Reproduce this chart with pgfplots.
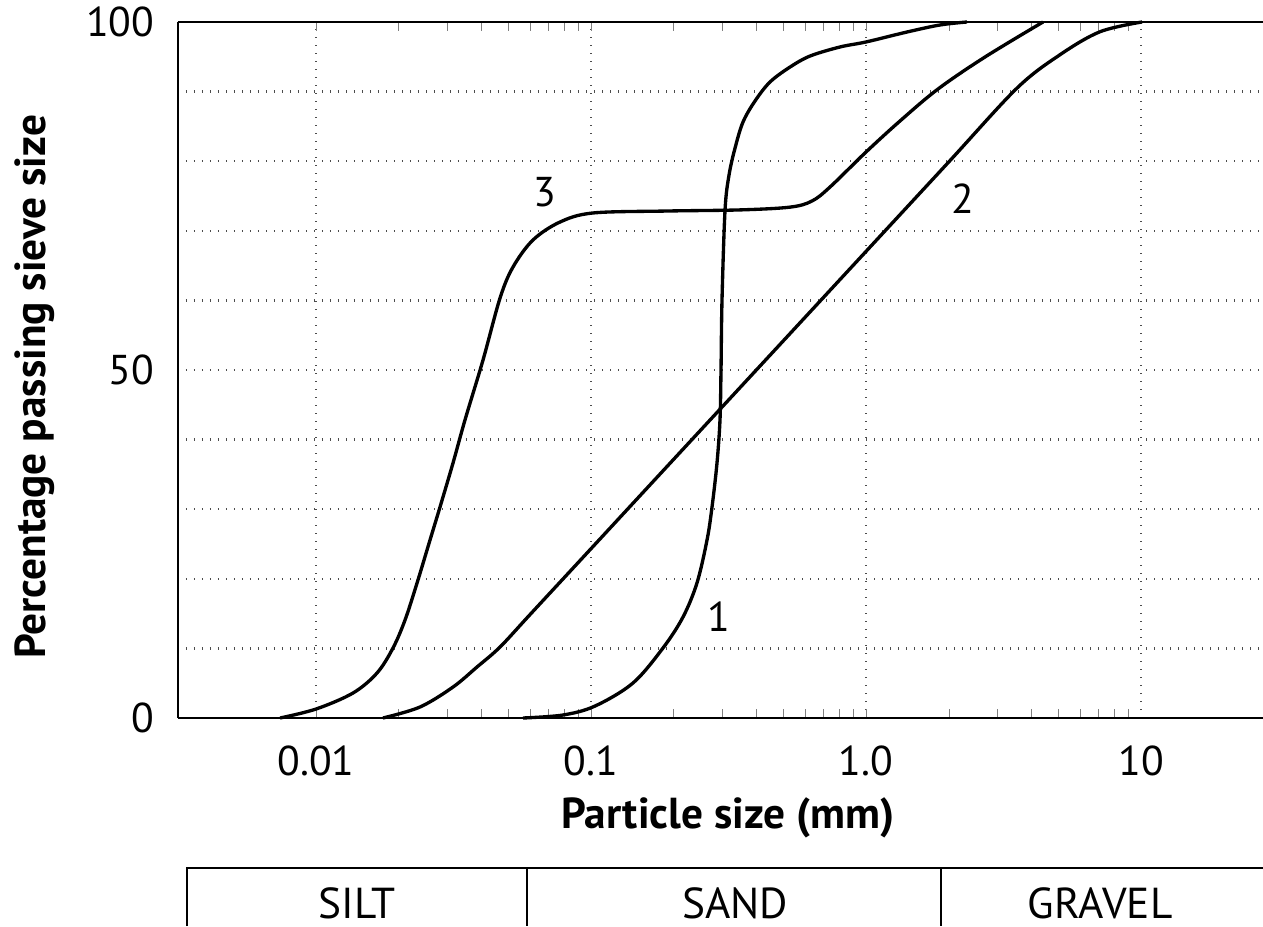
\documentclass[border=0pt]{standalone}
\usepackage{fontspec}
\setmainfont{PT Sans}
\usepackage{pgfplots}
\pgfplotsset{compat=1.18}

\begin{document}
\begin{tikzpicture}[font=\fontsize{13}{15}\selectfont]
\begin{axis}[
  scale only axis,
  width=325.5pt, height=208.8pt,
  xmode=log,
  xmin=0.003148, xmax=27.77,
  ymin=0, ymax=100,
  axis x line*=box, axis y line*=left,
  axis line style={line width=0.8pt},
  xtick={0.01,0.1,1,10},
  xticklabels={0.01,0.1,1.0,10},
  ytick={0,10,...,100},
  yticklabels={0,,,,,50,,,,,100},
  major tick length=0pt,
  grid=major,
  major grid style={dotted, line width=0.7pt, black!70},
  tick label style={font=\fontsize{12.5}{14}\selectfont,
    /pgf/number format/assume math mode=true},
  xticklabel style={anchor=center, yshift=-12.9pt},
  yticklabel style={anchor=east, inner sep=0pt, xshift=-6.9pt},
  xlabel={\textbf{Particle size (mm)}},
  ylabel={\textbf{Percentage passing sieve size}},
  xlabel style={at={(axis description cs:0.507,-0.1437)}, anchor=center},
  ylabel style={at={(axis description cs:-0.1318,0.4756)}, anchor=center},
  clip=false,
]
% curve 3
\addplot[black, line width=1pt, smooth, tension=0.55] coordinates {
  (0.0074,0) (0.0100,1.29) (0.01363,3.59) (0.01667,6.47) (0.01905,10.06)
  (0.02107,14.08) (0.0233,19.4) (0.02597,25.57) (0.02824,30.32) (0.03149,36.64)
  (0.03481,42.82) (0.04048,51.44) (0.04668,60.34) (0.05204,64.8) (0.06151,68.68)
  (0.07713,71.26) (0.1017,72.56) (0.1888,72.84) (0.3481,73.0) (0.5294,73.4)
  (0.6361,74.28) (0.7397,76.29) (1.0,81.32) (1.3292,85.78) (1.827,90.37)
  (2.708,94.97) (4.402,100)
};
% curve 1
\addplot[black, line width=1pt, smooth, tension=0.55] coordinates {
  (0.05658,0) (0.0791,0.43) (0.1034,1.72) (0.1421,5.03) (0.1827,10.06)
  (0.2160,14.51) (0.2428,19.4) (0.2641,25.57) (0.2754,30.32) (0.2871,36.64)
  (0.2944,42.82) (0.2969,50.0) (0.2994,60.06) (0.3071,72.99) (0.3176,78.02)
  (0.3340,81.9) (0.3570,85.63) (0.3948,88.65) (0.4475,91.38) (0.5294,93.53)
  (0.6258,95.11) (0.8044,96.41) (1.0,97.13) (1.4093,98.56) (1.858,99.57)
  (2.329,100)
};
% curve 2
\addplot[black, line width=1pt, smooth, tension=0.55] coordinates {
  (0.01752,0) (0.02388,1.58) (0.03149,4.45) (0.0385,7.33) (0.04668,10.2)
  (0.06,14.86) (0.1,24.33) (0.2,37.19) (0.5,54.18) (1.0,67.04) (2.0,79.9)
  (3.54,90.5) (5.076,95.3) (7.094,98.6) (10.08,100)
};
\node[font=\fontsize{12.5}{14}\selectfont] at (axis cs:0.0681,75.6) {3};
\node[font=\fontsize{12.5}{14}\selectfont] at (axis cs:2.253,74.6) {2};
\node[font=\fontsize{12.5}{14}\selectfont] at (axis cs:0.292,14.5) {1};
\end{axis}
% size classes below the axis
\draw[line width=0.75pt] (2.7pt,-62.4pt) -- (2.7pt,-45pt) -- (325.5pt,-45pt);
\draw[line width=0.75pt] (104.7pt,-45pt) -- (104.7pt,-62.4pt);
\draw[line width=0.75pt] (228.9pt,-45pt) -- (228.9pt,-62.4pt);
\node[anchor=base] at (53.7pt,-60pt) {SILT};
\node[anchor=base] at (167.1pt,-60pt) {SAND};
\node[anchor=base] at (276.6pt,-60pt) {GRAVEL};
\pgfresetboundingbox
\path[use as bounding box] (-53.4pt,-62.4pt) rectangle (325.5pt,215.4pt);
\end{tikzpicture}
\end{document}
